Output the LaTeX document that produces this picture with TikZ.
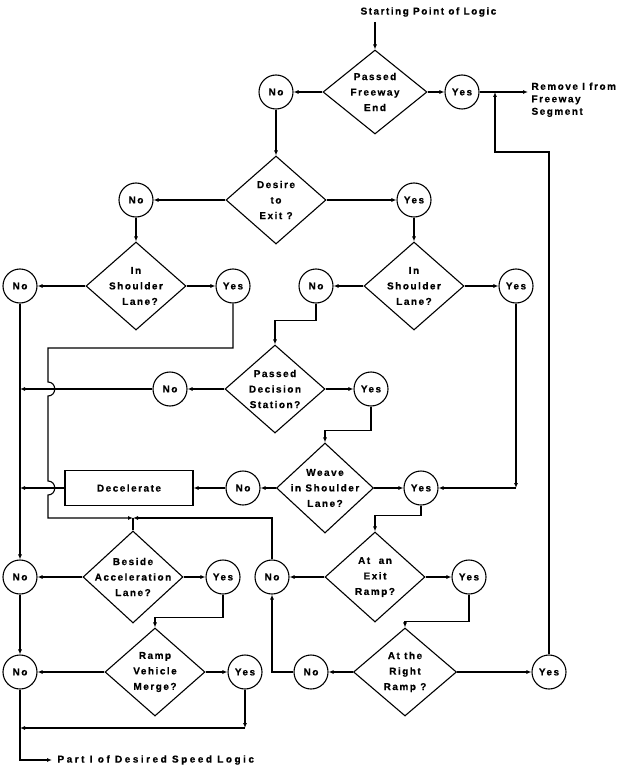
\documentclass[tikz,border=0pt]{standalone}
\usepackage{fontspec}
\setmainfont{Liberation Sans}
\newfontfamily\lett[UprightFont=* Bold,LetterSpace=15,FakeBold=0.6]{Liberation Sans}
\newfontfamily\lettwide[UprightFont=* Bold,LetterSpace=25,FakeBold=0.6]{Liberation Sans}
\usetikzlibrary{shapes.geometric,arrows.meta}
\begin{document}
\begin{tikzpicture}[x=1pt,y=-1pt,
  line width=1.1pt,
  font=\lett\fontsize{10}{15.5}\selectfont,
  dia/.style={draw,diamond,inner sep=0pt,minimum width=100pt,minimum height=88pt},
  dtxt/.style={align=center,inner sep=0pt},
  circ/.style={draw,circle,minimum size=34pt,inner sep=0pt},
  arr/.style={-{Latex[length=5pt,width=4pt]}},
  boxst/.style={draw,rectangle,minimum width=128pt,minimum height=35pt,inner sep=0pt}
]
\useasboundingbox (0,0) rectangle (617,767);

% top
\node[anchor=west,inner sep=0pt] (sttxt) at (360,12) {Starting Point of Logic};
\coordinate (s0) at (375,22);
\node[dia,minimum width=104pt,minimum height=84pt] (d1) at (375,92) {};
\node[dtxt] (d1t) at (d1) {Passed\\Freeway\\End};
\node[circ] (no1) at (276,92) {No};
\node[circ] (yes1) at (462,92) {Yes};
\coordinate (jt) at (495,92);
\coordinate (rm) at (528,92);
\node[anchor=north west,align=left,inner sep=0pt,font=\lett\fontsize{10}{12.5}\selectfont] (rmtxt) at (531,82) {Remove I from\\Freeway\\Segment};

% level 2
\node[dia] (d2) at (276,200) {};
\node[dtxt] (d2t) at (d2) {Desire\\to\\Exit ?};
\node[circ] (no2) at (136,200) {No};
\node[circ] (yes2) at (414,200) {Yes};

% level 3
\node[dia] (d3l) at (136,286) {};
\node[dtxt] (d3lt) at (d3l) {In\\Shoulder\\\hspace*{8pt}Lane?};
\node[circ] (no3l) at (20,286) {No};
\node[circ] (yes3l) at (233,286) {Yes};
\node[dia] (d3r) at (414,286) {};
\node[dtxt] (d3rt) at (d3r) {In\\Shoulder\\Lane?};
\node[circ] (no3r) at (316,286) {No};
\node[circ] (yes3r) at (516,286) {Yes};

% level 4
\node[dia] (d4) at (275,389) {};
\node[dtxt] (d4t) at (d4) {Passed\\Decision\\Station?};
\node[circ] (no4) at (170,389) {No};
\node[circ] (yes4) at (371,389) {Yes};

% level 5
\node[dia,minimum width=97pt,minimum height=90pt] (d5) at (325,488) {};
\node[dtxt] (d5t) at (d5) {Weave\\in Shoulder\\Lane?};
\node[circ] (no5) at (243,488) {No};
\node[circ] (yes5) at (421,488) {Yes};
\node[boxst] (dec) at (129,488) {Decelerate};

% level 6
\node[dia,minimum height=92pt] (d6l) at (133,577) {};
\node[dtxt] (d6lt) at (d6l) {Beside\\Acceleration\\Lane?};
\node[circ] (no6l) at (20,577) {No};
\node[circ] (yes6l) at (223,577) {Yes};
\node[dia,minimum height=90pt] (d6r) at (375,577) {};
\node[dtxt] (d6rt) at (d6r) {At\ \ an\\Exit\\Ramp?};
\node[circ] (no6r) at (272,577) {No};
\node[circ] (yes6r) at (469,577) {Yes};

% level 7
\node[dia] (d7l) at (155,672) {};
\node[dtxt] (d7lt) at (d7l) {Ramp\\Vehicle\\Merge?};
\node[circ] (no7l) at (20,672) {No};
\node[circ] (yes7l) at (245,672) {Yes};
\node[dia,minimum width=103pt] (d7r) at (405,672) {};
\node[dtxt] (d7rt) at (d7r) {At the\\Right\\Ramp ?};
\node[circ] (no7r) at (311,672) {No};
\node[circ] (yes7r) at (549,672) {Yes};

\coordinate (pend) at (52,760);
\node[anchor=west,inner sep=0pt,font=\lettwide\fontsize{10}{12}\selectfont] (ptxt) at (57,760) {Part I of Desired Speed Logic};

% connectors top
\draw[arr] (s0) -- (d1.north);
\draw[arr] (d1.west) -- (no1.east);
\draw[arr] (d1.east) -- (yes1.west);
\draw[arr] (yes1.east) -- (rm);
\draw[arr] (no1.south) -- (d2.north);
\draw[arr] (d2.west) -- (no2.east);
\draw[arr] (d2.east) -- (yes2.west);
\draw[arr] (no2.south) -- (d3l.north);
\draw[arr] (yes2.south) -- (d3r.north);
\draw[arr] (d3l.west) -- (no3l.east);
\draw[arr] (d3l.east) -- (yes3l.west);
\draw[arr] (d3r.west) -- (no3r.east);
\draw[arr] (d3r.east) -- (yes3r.west);
\draw[arr] (no3r.south) -- ++(0,17) -| (d4.north);
\draw[arr] (d4.west) -- (no4.east);
\draw[arr] (d4.east) -- (yes4.west);
\draw[arr] (no4.west) -- (no4.west -| no3l.center);
\draw[arr] (yes4.south) -- ++(0,24) -| (d5.north);
\draw[arr] (d5.west) -- (no5.east);
\draw[arr] (d5.east) -- (yes5.west);
\draw[arr] (no5.west) -- (dec.east);
\draw[arr] (dec.west) -- (dec.west -| no3l.center);
\coordinate (c3) at (yes3r |- yes5);
\draw[arr] (yes3r.south) -- (c3);
\draw[arr] (c3) -- (yes5.east);

% left long line with hops
\coordinate (vl) at (48,348);
\coordinate (jn) at (133,518);
\draw[arr] (yes3l.south) |- (vl) -- (48,382) .. controls (57,382) and (57,396) .. (48,396)
  -- (48,481) .. controls (57,481) and (57,495) .. (48,495) -- (48,518) -- (jn);
\draw[arr] (no6r.north) |- (jn);
\draw (jn) -- (d6l.north);

% left column
\draw[arr] (no3l.south) -- (no6l.north);
\draw[arr] (d6l.west) -- (no6l.east);
\draw[arr] (d6l.east) -- (yes6l.west);
\draw[arr] (yes6l.south) -- ++(0,23) -| (d7l.north);
\draw[arr] (no6l.south) -- (no7l.north);
\draw[arr] (d7l.west) -- (no7l.east);
\draw[arr] (d7l.east) -- (yes7l.west);
\coordinate (c7) at (245,728);
\draw[arr] (yes7l.south) -- (c7);
\draw[arr] (c7) -- (c7 -| no7l.center);
\draw[arr] (no7l.south) |- (pend);

% right column
\draw[arr] (yes5.south) -- ++(0,10) -| (d6r.north);
\draw[arr] (d6r.west) -- (no6r.east);
\draw[arr] (d6r.east) -- (yes6r.west);
\draw[arr] (yes6r.south) -- ++(0,27) -| (d7r.north);
\draw[arr] (d7r.west) -- (no7r.east);
\draw[arr] (d7r.east) -- (yes7r.west);
\draw[arr] (no7r.west) -| (no6r.south);
\coordinate (c8) at (495,152);
\draw[arr] (yes7r.north) |- (c8) -- (jt);
\end{tikzpicture}
\end{document}
